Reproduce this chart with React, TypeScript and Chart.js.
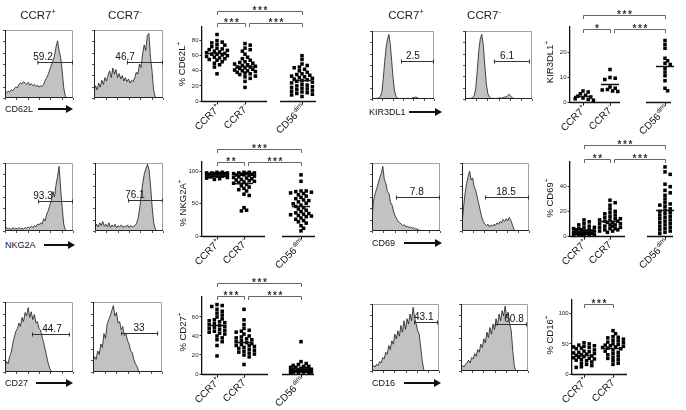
import React, { useEffect, useRef } from "react";
import { Chart, registerables } from "chart.js";

Chart.register(...registerables);

const FONT = "Arial, 'Liberation Sans', Helvetica, sans-serif";

// ---------- Histogram data: 45 bins across each plot, height in % of plot ----------
const CD62L_CCR7P = [5,8,10,9,12,11,14,16,15,20,22,21,24,22,20,23,19,21,18,20,17,19,16,18,17,20,26,30,35,42,48,55,62,75,84,70,60,40,15,3,0,0,0,0,0];
const CD62L_CCR7N = [10,18,12,22,16,26,20,30,25,34,40,30,44,35,42,30,36,28,33,25,30,24,28,22,26,24,30,38,35,50,45,65,78,70,92,95,60,40,12,2,0,0,0,0,0];
const KIR_CCR7P = [1,1,0,1,1,2,4,10,30,55,75,88,95,80,55,30,12,4,1,1,0,1,0,1,0,1,1,0,1,2,2,3,2,1,0,1,0,0,0,0,0,0,0,0,0];
const KIR_CCR7N = [1,1,0,1,1,2,5,15,40,70,88,95,80,50,22,8,3,1,1,1,0,1,1,2,1,2,3,3,5,7,4,2,1,0,0,0,0,0,0,0,0,0,0,0,0];
const NKG2A_CCR7P = [3,5,3,4,2,5,3,4,3,5,3,4,3,5,4,6,4,7,5,8,6,10,9,12,10,18,15,25,30,38,45,58,50,68,80,95,62,35,10,2,0,0,0,0,0];
const NKG2A_CCR7N = [5,10,6,12,8,14,7,10,6,12,5,9,6,10,5,8,6,9,5,7,6,9,5,8,6,7,8,12,20,35,55,72,85,92,98,90,65,35,12,3,0,0,0,0,0];
const CD69_CCR7P = [20,45,55,62,70,78,85,95,75,70,58,55,42,38,28,22,18,14,12,10,8,9,6,7,5,6,4,5,3,3,2,1,0,0,0,0,0,0,0,0,0,0,0,0,0];
const CD69_CCR7N = [10,35,55,70,80,88,75,78,65,60,50,40,30,20,14,10,8,10,6,9,7,10,8,12,10,14,12,17,14,18,15,20,16,10,3,0,0,0,0,0,0,0,0,0,0];
const CD27_CCR7P = [8,15,12,22,28,40,50,58,62,70,65,78,72,85,80,92,78,86,75,82,70,72,62,60,50,42,32,22,12,5,1,0,0,0,0,0,0,0,0,0,0,0,0,0,0];
const CD27_CCR7N = [15,22,18,30,25,40,35,55,48,68,75,80,88,95,80,85,70,72,60,65,52,55,45,40,30,28,18,12,8,2,0,0,0,0,0,0,0,0,0,0,0,0,0,0,0];
const CD16_CCR7P = [5,8,6,10,8,14,12,20,18,28,25,38,32,45,40,55,48,60,52,68,58,75,62,78,70,85,75,95,80,70,60,55,35,15,2,0,0,0,0,0,0,0,0,0,0];
const CD16_CCR7N = [5,8,6,10,12,16,12,20,18,26,22,32,28,40,35,48,42,58,50,65,55,70,62,78,68,85,75,90,82,97,80,88,70,60,30,8,0,0,0,0,0,0,0,0,0];

// ---------- Scatter data (% positive per donor) ----------
const CD62L_P = [88,80,78,77,75,74,72,70,69,68,67,66,65,64,63,62,62,61,60,59,58,57,56,55,54,52,50,48,45,36];
const CD62L_N = [76,74,70,68,66,62,58,56,54,52,51,50,49,48,47,46,45,45,44,43,42,41,40,40,39,38,37,36,35,33,32,30,26,18];
const CD62L_D = [60,55,49,47,45,44,42,40,38,36,35,34,33,32,31,30,29,28,27,26,25,24,22,21,20,19,18,17,16,15,14,13,12,11,10,9,8,6];
const NKG2A_P = [99,99,98,98,98,97,97,97,96,96,96,95,95,95,94,94,94,93,93,92,92,91,90,89,88];
const NKG2A_N = [99,99,98,98,97,97,96,96,95,95,94,93,92,91,90,89,88,87,86,85,84,83,82,80,78,76,74,72,70,65,63,44,40,39];
const NKG2A_D = [95,85,70,70,69,68,67,66,64,62,60,58,56,55,53,51,50,48,46,44,42,40,38,36,35,34,33,32,31,30,28,26,24,22,20,16,12,8];
const CD27_P = [73,72,71,68,66,64,62,60,58,57,56,55,54,53,52,51,50,49,48,47,46,45,44,43,42,40,38,36,34,30,19];
const CD27_N = [68,57,52,48,46,45,44,42,40,39,38,37,36,35,34,33,32,31,30,30,29,28,27,26,25,24,23,22,21,20,18,10];
const CD27_D = [34,13,11,10,9,8,8,7,7,6,6,5,5,5,4,4,4,3,3,3,2,2,2,1,1,1];
const KIR_P = [4.4,4,3.3,2.7,2.3,2,1.6,1.3,1,0.7];
const KIR_N = [13,9.8,9.5,9,6,5.5,5,4.8,4.4,4.2];
const KIR_D = [24.6,23,21.5,17.5,16.5,15.5,15,13.5,12,10.5,8.5,5.5,4.5];
const CD69_P = [13,11.5,10,9,8,7,7,6,6,5,5,5,4,4,4,4,3,3,3,3,2,2,2,2,1,1,1,1,0.5,0.5];
const CD69_N = [29,27,25,22,20,19,18,17,16,15,14,14,13,13,12,12,11,11,10,10,9,9,8,8,7,7,6,6,5,5,4,4,3];
const CD69_D = [56,52,50,42,40,37,35,33,30,27,26,25,24,22,21,20,19,18,17,16,15,14,13,12,11,10,9,8,7,6,5,4,3,2];
const CD16_P = [52,50,48,47,46,45,44,43,42,40,38,37,36,35,34,33,32,31,30,29,28,27,26,25,24,23,22,20,18,16,14,12,11];
const CD16_N = [72,67,62,61,60,58,56,55,53,52,50,49,48,47,46,45,44,43,42,40,38,36,34,32,30,28,26,24,22,18,16];

const CAT_LABELS: [string, string][] = [["CCR7", "+"], ["CCR7", "-"], ["CD56", "dim"]];

// ---------- Layout ----------
const HISTS = [
  { box: [5, 30, 68, 68], values: CD62L_CCR7P, gate: [21, 44, 53], label: "59.2", labelAt: 24.6 },
  { box: [94, 30, 69, 68], values: CD62L_CCR7N, gate: [21, 44, 53], label: "46.7", labelAt: 19.8 },
  { box: [372, 31, 62, 68], values: KIR_CCR7P, gate: [20.6, 44, 56], label: "2.5", labelAt: 29 },
  { box: [465, 31, 67, 68], values: KIR_CCR7N, gate: [19, 42.7, 56], label: "6.1", labelAt: 27.6 },
  { box: [5, 163, 68, 68], values: NKG2A_CCR7P, gate: [21.4, 44, 44], label: "93.3", labelAt: 24.6 },
  { box: [95, 163, 68, 68], values: NKG2A_CCR7N, gate: [21.4, 44, 46], label: "76.1", labelAt: 25.9 },
  { box: [372, 163, 68, 68], values: CD69_CCR7P, gate: [15.5, 44, 50], label: "7.8", labelAt: 29 },
  { box: [462, 163, 67, 68], values: CD69_CCR7N, gate: [15.1, 44, 50], label: "18.5", labelAt: 28.9 },
  { box: [5, 302, 68, 70], values: CD27_CCR7P, gate: [17.5, 42, 54], label: "44.7", labelAt: 30.4 },
  { box: [93, 302, 69, 70], values: CD27_CCR7N, gate: [17.9, 41.5, 56], label: "33", labelAt: 29.3 },
  { box: [372, 304, 67, 67], values: CD16_CCR7P, gate: [27.6, 43.3, 73], label: "43.1", labelAt: 34 },
  { box: [461, 304, 67, 67], values: CD16_CCR7N, gate: [22.3, 43.3, 70], label: "60.8", labelAt: 34.8 },
];

const SCATTERS = [
  { axisX: 202, top: 27, bottom: 101, right: 316, ymax: 98, ticks: [0, 20, 40, 60, 80], cats: [217, 245, 302],
    groups: [CD62L_P, CD62L_N, CD62L_D], segs: [[202, 267], [280, 316]],
    brackets: [{ a: 0, b: 2, y: -16, n: 3 }, { a: 0, b: 1, y: -4, n: 3 }, { a: 1, b: 2, y: -4, n: 3, inset: 4 }] },
  { axisX: 202, top: 162, bottom: 236, right: 315, ymax: 115, ticks: [0, 50, 100], cats: [217, 244, 301],
    groups: [NKG2A_P, NKG2A_N, NKG2A_D], segs: [[202, 265], [282, 315]],
    brackets: [{ a: 0, b: 2, y: -13, n: 3 }, { a: 0, b: 1, y: 0, n: 2 }, { a: 1, b: 2, y: 0, n: 3, inset: 4 }] },
  { axisX: 202, top: 297, bottom: 374, right: 314, ymax: 81, ticks: [0, 20, 40, 60], cats: [217, 244, 301],
    groups: [CD27_P, CD27_N, CD27_D], segs: [[202, 268], [282, 314]],
    brackets: [{ a: 0, b: 2, y: -14, n: 3 }, { a: 0, b: 1, y: -1, n: 3 }, { a: 1, b: 2, y: -1, n: 3, inset: 4 }] },
  { axisX: 570, top: 27, bottom: 102, right: 671, ymax: 30, ticks: [0, 10, 20], cats: [583, 610, 665],
    groups: [KIR_P, KIR_N, KIR_D], segs: [[570, 620], [646, 671]],
    brackets: [{ a: 0, b: 2, y: -12, n: 3 }, { a: 0, b: 1, y: 2, n: 1 }, { a: 1, b: 2, y: 2, n: 3, inset: 4 }] },
  { axisX: 570, top: 162, bottom: 236, right: 673, ymax: 60, ticks: [0, 20, 40], cats: [584, 610, 665],
    groups: [CD69_P, CD69_N, CD69_D], segs: [[570, 625], [647, 673]],
    brackets: [{ a: 0, b: 2, y: -17, n: 3 }, { a: 0, b: 1, y: -3, n: 2 }, { a: 1, b: 2, y: -3, n: 3, inset: 4 }] },
  { axisX: 572, top: 300, bottom: 374, right: 627, ymax: 123, ticks: [0, 50, 100], cats: [584, 613],
    groups: [CD16_P, CD16_N], segs: [[572, 627]],
    brackets: [{ a: 0, b: 1, y: 4, n: 3 }] },
];

const TITLES = [
  { x: 38, y: 16, t: "CCR7", s: "+" },
  { x: 125, y: 16, t: "CCR7", s: "-" },
  { x: 406, y: 16, t: "CCR7", s: "+" },
  { x: 484, y: 16, t: "CCR7", s: "-" },
];

const MARKERS = [
  { x: 5, y: 109, t: "CD62L", a1: 38, a2: 73 },
  { x: 369, y: 112, t: "KIR3DL1", a1: 409, a2: 442 },
  { x: 5, y: 245, t: "NKG2A", a1: 44, a2: 75 },
  { x: 372, y: 243, t: "CD69", a1: 404, a2: 442 },
  { x: 5, y: 383, t: "CD27", a1: 36, a2: 73 },
  { x: 372, y: 383, t: "CD16", a1: 404, a2: 441 },
];

const YTITLES = [
  { x: 182, y: 64, t: "% CD62L" },
  { x: 183, y: 203, t: "% NKG2A" },
  { x: 183, y: 332, t: "% CD27" },
  { x: 550, y: 62, t: "KIR3DL1" },
  { x: 550, y: 198, t: "% CD69" },
  { x: 550, y: 335, t: "% CD16" },
];

// ---------- helpers ----------
function swarm(values: number[], pxPerUnit: number): number[] {
  const order = values.map((_, i) => i).sort((a, b) => values[b] - values[a]);
  const placed: { x: number; y: number }[] = [];
  const out = new Array(values.length).fill(0);
  const cands: number[] = [0];
  for (let k = 1; k <= 4; k++) { cands.push(k * 2.6, -k * 2.6); }
  for (const i of order) {
    const y = values[i] * pxPerUnit;
    let best = 0, bestD = -1;
    for (const c of cands) {
      let md = 1e9;
      for (const p of placed) md = Math.min(md, Math.hypot(p.x - c, p.y - y));
      if (md >= 3.6) { best = c; bestD = 1e9; break; }
      if (md > bestD) { bestD = md; best = c; }
    }
    out[i] = best;
    placed.push({ x: best, y });
  }
  return out;
}

function drawRotLabel(ctx: CanvasRenderingContext2D, x: number, y: number, main: string, sup: string) {
  ctx.save();
  ctx.translate(x, y);
  ctx.rotate(-Math.PI / 4);
  ctx.fillStyle = "#111";
  ctx.textBaseline = "middle";
  ctx.textAlign = "left";
  ctx.font = `10px ${FONT}`;
  const wm = ctx.measureText(main).width;
  ctx.font = `6.5px ${FONT}`;
  const ws = ctx.measureText(sup).width;
  ctx.font = `10px ${FONT}`;
  ctx.fillText(main, -(wm + ws + 0.5), 0);
  ctx.font = `6.5px ${FONT}`;
  ctx.fillText(sup, -ws, -3.5);
  ctx.restore();
}

function histPlugin(cfg: any) {
  return {
    id: "histFrame",
    afterDraw(chart: any) {
      const { ctx, chartArea: a } = chart;
      const xs = chart.scales.x, ys = chart.scales.y;
      ctx.save();
      ctx.lineWidth = 1;
      ctx.strokeStyle = "#a0a0a0";
      ctx.beginPath();
      ctx.moveTo(a.left, a.top + 0.5);
      ctx.lineTo(a.right - 0.5, a.top + 0.5);
      ctx.lineTo(a.right - 0.5, a.bottom);
      ctx.stroke();
      ctx.strokeStyle = "#222";
      ctx.beginPath();
      ctx.moveTo(a.left + 0.5, a.top);
      ctx.lineTo(a.left + 0.5, a.bottom - 0.5);
      ctx.lineTo(a.right, a.bottom - 0.5);
      ctx.stroke();
      ctx.strokeStyle = "#555";
      ctx.beginPath();
      for (let k = 0; k <= 6; k++) {
        const x = Math.round(a.left + (a.right - a.left) * k / 6) + 0.5;
        ctx.moveTo(x, a.bottom);
        ctx.lineTo(x, a.bottom + 2);
        const y = Math.round(a.bottom - (a.bottom - a.top) * k / 6) + 0.5;
        ctx.moveTo(a.left, y);
        ctx.lineTo(a.left - 2, y);
      }
      ctx.stroke();
      const gx1 = xs.getPixelForValue(cfg.gate[0]);
      const gx2 = xs.getPixelForValue(cfg.gate[1]);
      const gy = Math.round(ys.getPixelForValue(cfg.gate[2])) + 0.5;
      ctx.strokeStyle = "#333";
      ctx.beginPath();
      ctx.moveTo(gx1, gy); ctx.lineTo(gx2, gy);
      ctx.moveTo(gx1 + 0.5, gy - 2); ctx.lineTo(gx1 + 0.5, gy + 2);
      ctx.moveTo(gx2 - 0.5, gy - 2); ctx.lineTo(gx2 - 0.5, gy + 2);
      ctx.stroke();
      ctx.fillStyle = "#111";
      ctx.font = `10px ${FONT}`;
      ctx.textAlign = "center";
      ctx.textBaseline = "bottom";
      ctx.fillText(cfg.label, xs.getPixelForValue(cfg.labelAt), gy - 0.5);
      ctx.restore();
    },
  };
}

function scatterPlugin(cfg: any) {
  return {
    id: "scatterDeco",
    afterDraw(chart: any) {
      const { ctx, chartArea: a } = chart;
      const xs = chart.scales.x, ys = chart.scales.y;
      const y0 = Math.round(ys.getPixelForValue(0)) + 0.5;
      ctx.save();
      ctx.strokeStyle = "#111";
      ctx.lineWidth = 1.3;
      ctx.beginPath();
      for (const [s, e] of cfg.segs) {
        ctx.moveTo(xs.getPixelForValue(s), y0);
        ctx.lineTo(xs.getPixelForValue(e), y0);
      }
      ctx.stroke();
      ctx.lineWidth = 1;
      ctx.beginPath();
      for (const c of cfg.cats) {
        const cx = Math.round(xs.getPixelForValue(c)) + 0.5;
        ctx.moveTo(cx, y0);
        ctx.lineTo(cx, y0 + 3);
      }
      ctx.stroke();
      // mean lines
      ctx.lineWidth = 1.3;
      ctx.beginPath();
      cfg.groups.forEach((g: number[], i: number) => {
        const m = g.reduce((s, v) => s + v, 0) / g.length;
        const py = Math.round(ys.getPixelForValue(m)) + 0.5;
        ctx.moveTo(xs.getPixelForValue(cfg.cats[i] - 9), py);
        ctx.lineTo(xs.getPixelForValue(cfg.cats[i] + 9), py);
      });
      ctx.stroke();
      // category labels
      cfg.cats.forEach((c: number, i: number) => {
        drawRotLabel(ctx, xs.getPixelForValue(c) + 2, y0 + 5, CAT_LABELS[i][0], CAT_LABELS[i][1]);
      });
      // significance brackets
      ctx.strokeStyle = "#666";
      ctx.lineWidth = 1;
      for (const b of cfg.brackets) {
        const xa = Math.round(xs.getPixelForValue(cfg.cats[b.a])) + 0.5 + (b.inset || 0);
        const xb = Math.round(xs.getPixelForValue(cfg.cats[b.b])) + 0.5;
        const y = Math.round(a.top + b.y) + 0.5;
        ctx.beginPath();
        ctx.moveTo(xa, y + 3.5);
        ctx.lineTo(xa, y);
        ctx.lineTo(xb, y);
        ctx.lineTo(xb, y + 3.5);
        ctx.stroke();
        ctx.fillStyle = "#333";
        ctx.font = `bold 10px ${FONT}`;
        ctx.textAlign = "center";
        ctx.textBaseline = "alphabetic";
        const cx = (xa + xb) / 2;
        for (let k = 0; k < b.n; k++) {
          ctx.fillText("*", cx + (k - (b.n - 1) / 2) * 5.5, y + 2);
        }
      }
      ctx.restore();
    },
  };
}

function HistPlot({ cfg }: { cfg: any }) {
  const ref = useRef<HTMLCanvasElement | null>(null);
  const [bx, by, bw, bh] = cfg.box;
  const pl = 6, pt = 16, pr = 6, pb = 6;
  const cw = bw + pl + pr, ch = bh + pt + pb;
  useEffect(() => {
    const c = ref.current;
    if (!c) return;
    const chart = new Chart(c, {
      type: "line",
      data: {
        datasets: [{
          data: cfg.values.map((v: number, i: number) => ({ x: i, y: v })),
          fill: "origin",
          backgroundColor: "#c2c2c2",
          borderColor: "#1a1a1a",
          borderWidth: 0.8,
          pointRadius: 0,
          tension: 0,
        }],
      },
      options: {
        responsive: false,
        animation: false,
        devicePixelRatio: 1,
        events: [],
        layout: { padding: { left: pl, top: pt, right: pr, bottom: pb } },
        plugins: { legend: { display: false }, tooltip: { enabled: false } },
        scales: {
          x: { type: "linear", min: 0, max: cfg.values.length - 1, display: false },
          y: { type: "linear", min: 0, max: 100, display: false },
        },
      },
      plugins: [histPlugin(cfg)],
    } as any);
    return () => chart.destroy();
  }, [cfg]);
  return (
    <canvas ref={ref} width={cw} height={ch}
      style={{ position: "absolute", left: bx - pl, top: by - pt, width: cw, height: ch }} />
  );
}

function ScatterPlot({ cfg }: { cfg: any }) {
  const ref = useRef<HTMLCanvasElement | null>(null);
  const minB = Math.min(...cfg.brackets.map((b: any) => b.y));
  const cLeft = cfg.axisX - 26;
  const cTop = cfg.top + Math.min(minB, 0) - 16;
  const cRight = cfg.right + 12;
  const cBottom = cfg.bottom + 42;
  const cw = cRight - cLeft, ch = cBottom - cTop;
  useEffect(() => {
    const c = ref.current;
    if (!c) return;
    const ppu = (cfg.bottom - cfg.top) / cfg.ymax;
    const datasets = cfg.groups.map((g: number[], gi: number) => {
      const offs = swarm(g, ppu);
      return {
        data: g.map((v, i) => ({ x: cfg.cats[gi] + offs[i], y: v })),
        pointStyle: "rect",
        pointRadius: 2.5,
        pointBorderWidth: 0,
        backgroundColor: "#000",
        borderColor: "#000",
        showLine: false,
        clip: false,
      };
    });
    const chart = new Chart(c, {
      type: "scatter",
      data: { datasets },
      options: {
        responsive: false,
        animation: false,
        devicePixelRatio: 1,
        events: [],
        layout: { padding: { left: 0, top: cfg.top - cTop, right: cRight - cfg.right, bottom: cBottom - cfg.bottom } },
        plugins: { legend: { display: false }, tooltip: { enabled: false } },
        scales: {
          x: { type: "linear", min: cfg.axisX, max: cfg.right, display: false },
          y: {
            type: "linear",
            min: 0,
            max: cfg.ymax,
            afterBuildTicks: (s: any) => { s.ticks = cfg.ticks.map((v: number) => ({ value: v })); },
            afterFit: (s: any) => { s.width = cfg.axisX - cLeft; },
            ticks: { font: { size: 6, family: FONT }, color: "#222", padding: 1, callback: (v: any) => String(v) },
            grid: { drawOnChartArea: false, drawTicks: true, tickLength: 2.5, color: "#222", lineWidth: 1 },
            border: { display: true, color: "#111", width: 1.3 },
          },
        },
      },
      plugins: [scatterPlugin(cfg)],
    } as any);
    return () => chart.destroy();
  }, [cfg]);
  return (
    <canvas ref={ref} width={cw} height={ch}
      style={{ position: "absolute", left: cLeft, top: cTop, width: cw, height: ch }} />
  );
}

export default function App() {
  const txt: React.CSSProperties = { position: "absolute", fontFamily: FONT, color: "#111", whiteSpace: "nowrap", lineHeight: 1 };
  return (
    <div style={{ position: "absolute", left: 0, top: 0, width: 686, height: 410, background: "#fff", overflow: "hidden" }}>
      {HISTS.map((h, i) => <HistPlot key={"h" + i} cfg={h} />)}
      {SCATTERS.map((s, i) => <ScatterPlot key={"s" + i} cfg={s} />)}
      {TITLES.map((t, i) => (
        <div key={"t" + i} style={{ ...txt, left: t.x, top: t.y, fontSize: 11.5, transform: "translate(-50%, -50%)", color: "#222" }}>
          {t.t}<span style={{ fontSize: 7.5, position: "relative", top: -5 }}>{t.s}</span>
        </div>
      ))}
      {MARKERS.map((m, i) => (
        <React.Fragment key={"m" + i}>
          <div style={{ ...txt, left: m.x, top: m.y, fontSize: 9, transform: "translateY(-50%)" }}>{m.t}</div>
          <div style={{ position: "absolute", left: m.a1, top: m.y - 0.6, width: m.a2 - m.a1 - 6, height: 1.3, background: "#111" }} />
          <div style={{ position: "absolute", left: m.a2 - 7, top: m.y - 4, width: 0, height: 0,
            borderLeft: "7px solid #111", borderTop: "4px solid transparent", borderBottom: "4px solid transparent" }} />
        </React.Fragment>
      ))}
      {YTITLES.map((t, i) => (
        <div key={"y" + i} style={{ ...txt, left: t.x, top: t.y, fontSize: 9.5, transform: "translate(-50%, -50%) rotate(-90deg)" }}>
          {t.t}<span style={{ fontSize: 6.5, position: "relative", top: -4 }}>+</span>
        </div>
      ))}
    </div>
  );
}
